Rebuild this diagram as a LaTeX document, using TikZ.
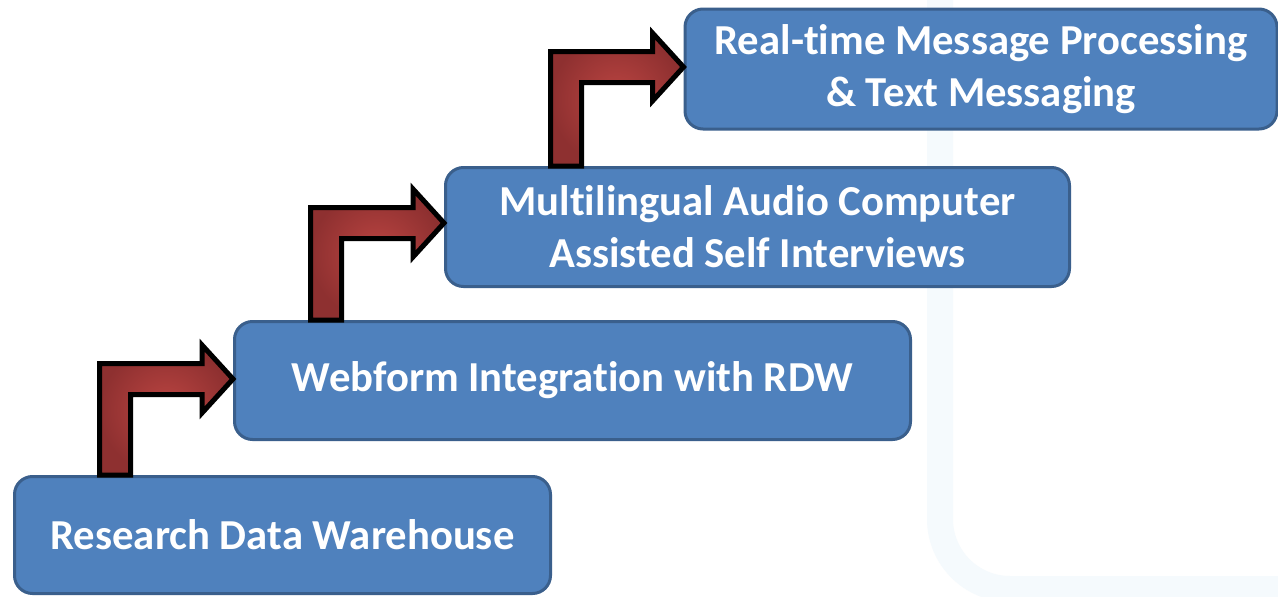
\documentclass[tikz,border=0pt]{standalone}
\usepackage{fontspec}
\setmainfont[Ligatures={NoCommon}]{Carlito}
\usetikzlibrary{calc}
\definecolor{boxfill}{HTML}{4F81BD}
\definecolor{boxline}{HTML}{3A5F8C}
\definecolor{arrin}{HTML}{BC4542}
\definecolor{arrout}{HTML}{8E3030}
\definecolor{bgband}{HTML}{F5FAFD}
\tikzset{
  stagebox/.style={draw=boxline, line width=3pt, fill=boxfill, rounded corners=18pt,
    text=white, font=\bfseries\fontsize{42.7}{52}\selectfont, align=center, inner sep=0pt},
  blockarrow/.style={draw=black, line width=5pt, miter limit=10, line join=miter,
    shading=radial, inner color=arrin, outer color=arrout},
}
% #1 from node, #2 stem left x (pt), #3 to node, #4 tip y offset (pt, canvas)
\newcommand{\stairarrow}[4]{%
  \path let \p1=(#1.north), \p2=($(#3.west)+(0,#4)$) in
    [blockarrow] (#2,\y1) -- (#2,\y2+15.5pt) -- (\x2-31pt,\y2+15.5pt)
    -- (\x2-31pt,\y2+34pt) -- (\x2,\y2) -- (\x2-31pt,\y2-34pt)
    -- (\x2-31pt,\y2-15.5pt) -- (#2+31pt,\y2-15.5pt) -- (#2+31pt,\y1) -- cycle;}
\begin{document}
\begin{tikzpicture}[x=1pt,y=-1pt]
\useasboundingbox (0,0) rectangle (1278,597);
\fill[white] (0,0) rectangle (1278,597);
% faint background frame
\draw[bgband, line width=26pt, rounded corners=70pt] (940,-30) -- (940,589) -- (1310,589);
% stages
\node[stagebox, minimum width=536pt, minimum height=117pt] (b1) at (282.5,535) {Research Data Warehouse};
\node[stagebox, minimum width=676pt, minimum height=118pt] (b2) at (572.5,380.5) {Webform Integration with RDW};
\node[stagebox, minimum width=624pt, minimum height=119pt] (b3) at (757.5,227) {Multilingual Audio Computer\\Assisted Self Interviews};
\node[stagebox, minimum width=592pt, minimum height=120pt] (b4) at (981,69) {Real-time Message Processing\\\& Text Messaging};
% arrows
\stairarrow{b1}{99.5pt}{b2}{1.5pt}
\stairarrow{b2}{310.5pt}{b3}{4pt}
\stairarrow{b3}{550.5pt}{b4}{2pt}
\end{tikzpicture}
\end{document}
